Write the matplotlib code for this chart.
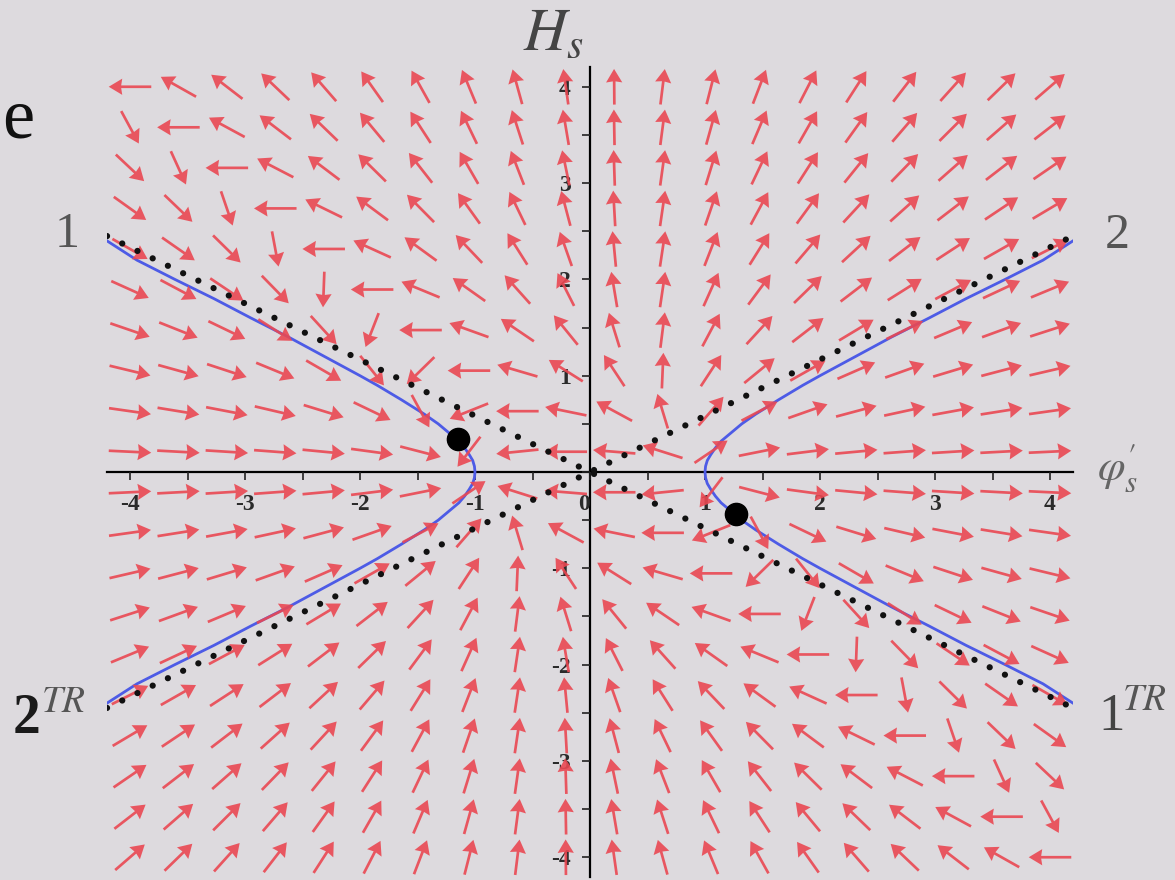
import numpy as np
import matplotlib
matplotlib.use('Agg')
import matplotlib.pyplot as plt

plt.rcParams['mathtext.fontset'] = 'stix'

# direction field grid (Maple default 20 x 20 arrows)
phi_grid = np.linspace(-4, 4, 20)
h_grid = np.linspace(-4, 4, 20)


def field(phi, h):
    # right-hand side of the system (phi_s', H_s)
    return phi * (phi + h) - 1.0, h * (phi + h)


# right branch of the blue trajectory
branch_h = [-2.4, -2.2, -2.0, -1.8, -1.6, -1.4, -1.2, -1.0, -0.9, -0.75, -0.6,
            -0.5, -0.4, -0.32, -0.25, -0.18, -0.12, -0.06, 0.0, 0.06, 0.12,
            0.18, 0.25, 0.32, 0.4, 0.5, 0.6, 0.75, 0.9, 1.0, 1.2, 1.4, 1.6,
            1.8, 2.0, 2.2, 2.4]
branch_phi = [4.2, 3.94, 3.61, 3.27, 2.95, 2.62, 2.31, 2.0, 1.85, 1.64, 1.44,
              1.32, 1.22, 1.14, 1.09, 1.05, 1.02, 1.005, 1.0, 1.005, 1.02,
              1.05, 1.09, 1.14, 1.22, 1.32, 1.44, 1.64, 1.85, 2.0, 2.31, 2.62,
              2.95, 3.27, 3.61, 3.94, 4.2]

# dotted asymptotes
asym_phi = [-4.2, 4.2]
asym_h1 = [2.45, -2.45]
asym_h2 = [-2.45, 2.45]

# black points on the trajectory
dot_phi = [-1.15, 1.27]
dot_h = [0.34, -0.44]

x_ticks = [-4, -3, -2, -1, 0, 1, 2, 3, 4]
y_ticks = [-4, -3, -2, -1, 1, 2, 3, 4]

bg = '#dddade'
W, H = 1175, 880

fig = plt.figure(figsize=(11.75, 8.8), dpi=100, facecolor=bg)
ax = fig.add_axes([107 / W, 3.5 / H, 966 / W, 809 / H], facecolor=bg)

# direction field, arrows normalised to a fixed length
P, Q = np.meshgrid(phi_grid, h_grid)
U, V = field(P, Q)
norm = np.hypot(U, V)
L = 0.37
ax.quiver(P, Q, L * U / norm, L * V / norm, angles='xy', scale_units='xy', scale=1,
          pivot='mid', color='#ea4852', alpha=0.9, width=0.0028,
          headwidth=6, headlength=5.0, headaxislength=4.6, zorder=3)

# trajectory branches
ax.plot(branch_phi, branch_h, color='#4d5be6', lw=2, zorder=2)
ax.plot([-p for p in branch_phi], branch_h, color='#4d5be6', lw=2, zorder=2)

# asymptotes
for hh in (asym_h1, asym_h2):
    ax.plot(asym_phi, hh, color='#111111', lw=4.5, linestyle=(0, (0.01, 2.7)),
            dash_capstyle='round', zorder=4)

ax.plot(dot_phi, dot_h, 'o', color='black', ms=16, zorder=5)

ax.set_xlim(-4.2, 4.2)
ax.set_ylim(-4.2, 4.2)
for s in ('top', 'right'):
    ax.spines[s].set_visible(False)
ax.spines['left'].set_position('zero')
ax.spines['bottom'].set_position('zero')
for s in ('left', 'bottom'):
    ax.spines[s].set_linewidth(1.6)
    ax.spines[s].set_zorder(1)

tick_font = dict(family='Liberation Serif', weight='bold', size=17, color='#2a2a2a')
ax.set_xticks(x_ticks)
ax.set_xticklabels([str(t) for t in x_ticks], fontdict=tick_font)
ax.set_yticks(y_ticks)
ax.set_yticklabels([str(t) for t in y_ticks], fontdict=tick_font)
ax.set_xticks(np.arange(-4, 4.01, 0.5), minor=True)
ax.set_yticks(np.arange(-4, 4.01, 0.5), minor=True)
ax.tick_params(which='both', direction='out', length=6, width=1.2, color='#222222')
ax.tick_params(axis='x', pad=10)
ax.tick_params(axis='y', pad=8)
ax.get_xticklabels()[4].set_horizontalalignment('right')


def px(x, y):
    return x / W, 1 - y / H


serif = 'Liberation Serif'
fig.text(*px(2, 137), 'e', ha='left', va='baseline', fontsize=52,
         family=serif, color='#111111')
fig.text(*px(67, 247), '1', ha='center', va='baseline', fontsize=36,
         family=serif, color='#555555')
fig.text(*px(1117, 248), '2', ha='center', va='baseline', fontsize=36,
         family=serif, color='#555555')
fig.text(*px(13, 733), '2', ha='left', va='baseline', fontsize=40,
         family=serif, color='#1a1a1a', weight='bold')
fig.text(*px(41, 712), r'$TR$', ha='left', va='baseline', fontsize=27,
         color='#555555')
fig.text(*px(1098, 730), '1', ha='left', va='baseline', fontsize=38,
         family=serif, color='#444444')
fig.text(*px(1122, 710), r'$TR$', ha='left', va='baseline', fontsize=27,
         color='#555555')
fig.text(*px(523, 50), r'$H_s$', ha='left', va='baseline', fontsize=43,
         color='#444444')
fig.text(*px(1097, 480), r"$\varphi_s'$", ha='left', va='baseline', fontsize=32,
         color='#666666')

fig.savefig('out.png', dpi=100, facecolor=bg)
